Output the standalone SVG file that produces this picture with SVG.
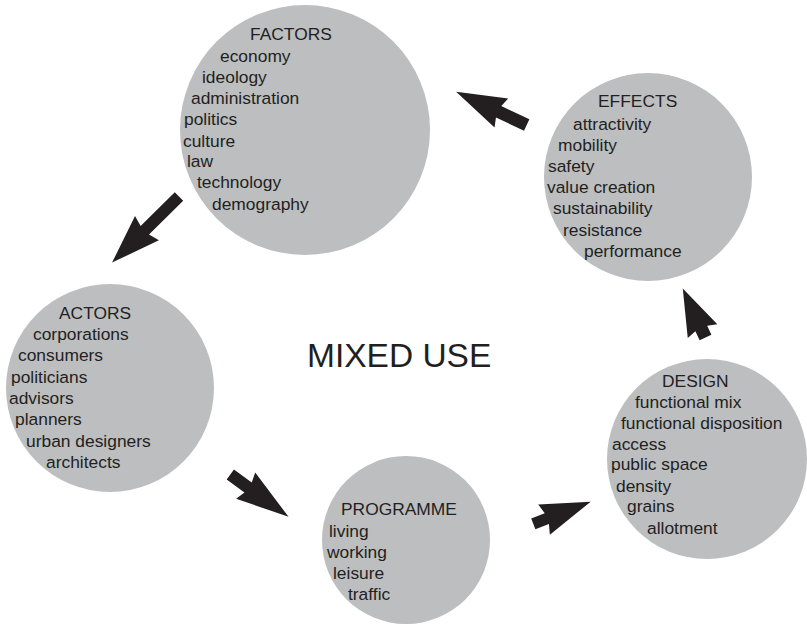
<svg xmlns="http://www.w3.org/2000/svg" width="807" height="624" viewBox="0 0 807 624">
<style>
.c{fill:#bcbec0}
.t{font-family:"Liberation Sans",Arial,sans-serif;font-size:17.4px;fill:#231f20}
.big{font-family:"Liberation Sans",Arial,sans-serif;font-size:33.5px;fill:#231f20}
.a{fill:#231f20}
</style>
<rect width="807" height="624" fill="#ffffff"/>
<g id="factors">
<circle class="c" cx="305" cy="130" r="125"/>
<text class="t" x="250" y="40">FACTORS</text>
<text class="t" x="220" y="62">economy</text>
<text class="t" x="202" y="83">ideology</text>
<text class="t" x="191" y="104">administration</text>
<text class="t" x="184" y="125">politics</text>
<text class="t" x="183" y="147">culture</text>
<text class="t" x="187" y="167">law</text>
<text class="t" x="197" y="188">technology</text>
<text class="t" x="212" y="210">demography</text>
</g>
<g id="effects">
<circle class="c" cx="648" cy="177" r="104"/>
<text class="t" x="598" y="107">EFFECTS</text>
<text class="t" x="573" y="130">attractivity</text>
<text class="t" x="558" y="151">mobility</text>
<text class="t" x="548" y="172">safety</text>
<text class="t" x="547" y="193">value creation</text>
<text class="t" x="553" y="214">sustainability</text>
<text class="t" x="563" y="236">resistance</text>
<text class="t" x="584" y="257">performance</text>
</g>
<g id="actors">
<circle class="c" cx="110" cy="388" r="104"/>
<text class="t" x="59" y="319">ACTORS</text>
<text class="t" x="33" y="340">corporations</text>
<text class="t" x="18" y="361">consumers</text>
<text class="t" x="11" y="383">politicians</text>
<text class="t" x="9" y="404">advisors</text>
<text class="t" x="15" y="425">planners</text>
<text class="t" x="26" y="447">urban designers</text>
<text class="t" x="46" y="468">architects</text>
</g>
<g id="programme">
<circle class="c" cx="406" cy="540" r="84"/>
<text class="t" x="341" y="515">PROGRAMME</text>
<text class="t" x="329" y="537">living</text>
<text class="t" x="327" y="558">working</text>
<text class="t" x="333" y="579">leisure</text>
<text class="t" x="348" y="600">traffic</text>
</g>
<g id="design">
<circle class="c" cx="707" cy="459" r="100"/>
<text class="t" x="662" y="387">DESIGN</text>
<text class="t" x="635" y="408">functional mix</text>
<text class="t" x="621" y="429">functional disposition</text>
<text class="t" x="612" y="450">access</text>
<text class="t" x="611" y="470">public space</text>
<text class="t" x="616" y="492">density</text>
<text class="t" x="627" y="512">grains</text>
<text class="t" x="647" y="534">allotment</text>
</g>
<g id="title">
<text class="big" x="307" y="367">MIXED USE</text>
</g>
<g id="connectors">
<polygon class="a" transform="translate(179,196.6) rotate(135.4)" points="0,-6 48,-6 45,-17 94,0 45,17 48,6 0,6"/>
<polygon class="a" transform="translate(526.7,125) rotate(205.2)" points="0,-6.3 31,-6.3 28,-16 78,0 28,16 31,6.3 0,6.3"/>
<polygon class="a" transform="translate(705.5,337.5) rotate(-114.9)" points="0,-6.5 10,-6.5 7,-16.3 54,0 7,16.3 10,6.5 0,6.5"/>
<polygon class="a" transform="translate(230.3,474.5) rotate(36)" points="0,-6.2 22,-6.2 19,-16.2 72,0 19,16.2 22,6.2 0,6.2"/>
<polygon class="a" transform="translate(533.3,523.8) rotate(-21.1)" points="0,-5.8 14.5,-5.8 11.5,-16.2 61.5,0 11.5,16.2 14.5,5.8 0,5.8"/>
</g>
</svg>
